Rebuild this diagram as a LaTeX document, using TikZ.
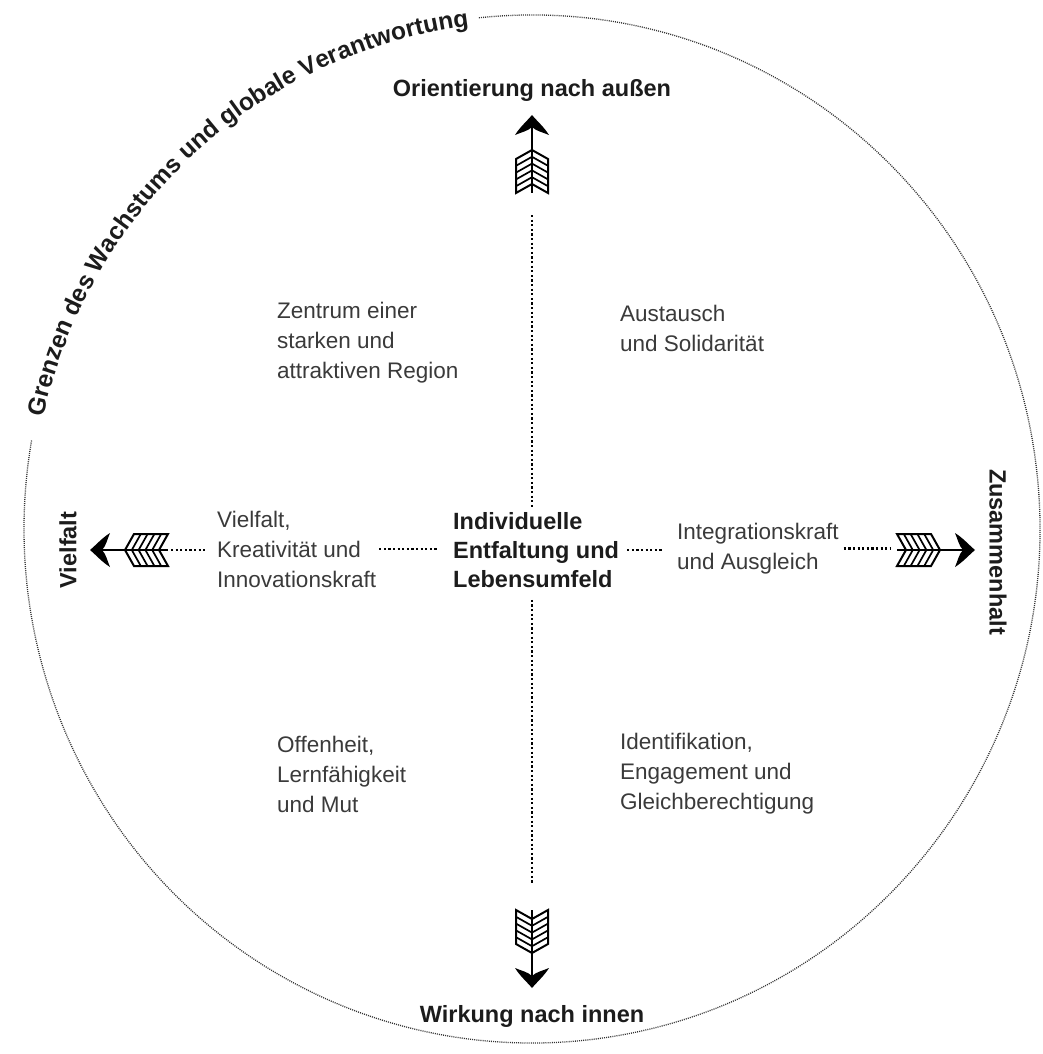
\documentclass[tikz,border=0pt]{standalone}
\usepackage{fontspec}
\setmainfont{Liberation Sans}
\usetikzlibrary{decorations.text}
\definecolor{bodygray}{HTML}{3A3A3A}
\definecolor{headblack}{HTML}{1C1C1C}
\tikzset{
  body/.style={font=\fontsize{22.5}{30}\selectfont, text=bodygray, align=left, inner sep=0pt, anchor=west},
  head/.style={font=\fontsize{23.5}{29}\selectfont\bfseries, text=headblack, inner sep=0pt},
  dotline/.style={black, line width=2.5pt, dash pattern=on 2.2pt off 2.4pt},
  rimline/.style={black!80, line width=1.3pt, dash pattern=on 1pt off 1.1pt},
  fletch/.style={black, line width=2pt, line join=miter},
}
\newcommand{\featherarrow}[3]{%
  \begin{scope}[shift={#1}, rotate=#2]
    \fill (0,0) .. controls (5,-6) and (12,-12) .. (17,-20) .. controls (10,-17) and (4,-16) .. (0,-12) .. controls (-4,-16) and (-10,-17) .. (-17,-20) .. controls (-12,-12) and (-5,-6) .. (0,0) -- cycle;
    \draw [black, line width=2.6pt] (0,-10) -- (0,-78);
    \draw [fletch] (0,-35) -- (16,-44) -- (16,-78) -- (0,-69) -- (-16,-78) -- (-16,-44) -- cycle;
    \foreach \k in {1,...,4}
      \draw [fletch, line width=1.7pt] (-16,{-44-6.8*\k}) -- (0,{-35-6.8*\k}) -- (16,{-44-6.8*\k});
    \coordinate (#3) at (0,-78);
  \end{scope}}

\begin{document}
\begin{tikzpicture}[x=1pt, y=1pt]
      \useasboundingbox (0,0) rectangle (1043,-1054);
      \coordinate (mid) at (532,-529);
      \draw [rimline] (mid) ++(96:508 and 514) arc [start angle=96, end angle=-190, x radius=508, y radius=514];
      \path [decorate, decoration={text along path, text align=center, text color=headblack,
        text={|\fontsize{24.5}{24.5}\selectfont\bfseries|Grenzen des Wachstums und globale Verantwortung}}]
        (mid) ++(168:501 and 507) arc [start angle=168, end angle=96.5, x radius=501, y radius=507];

      \featherarrow{(532,-115)}{0}{topfl}
      \featherarrow{(532,-988)}{180}{botfl}
      \featherarrow{(90,-550)}{90}{leftfl}
      \featherarrow{(975,-550)}{-90}{rightfl}

      \node [head, anchor=base] (outward) at (532,-96.5) {Orientierung nach außen};
      \node [head, anchor=base] (inward) at (532,-1022) {Wirkung nach innen};
      \node [head, rotate=90] (diversity) at (68,-550) {Vielfalt};
      \node [head, rotate=-90] (cohesion) at (998,-552) {Zusammenhalt};
      \node [head, align=left, anchor=west] (ind) at (453,-550) {Individuelle\\Entfaltung und\\Lebensumfeld};

      \node [body] (region) at (277,-343) {Zentrum einer\\starken und\\attraktiven Region};
      \node [body] (solid) at (620,-328) {Austausch\\und Solidarität};
      \node [body] (creat) at (217,-549) {Vielfalt,\\Kreativität und\\Innovationskraft};
      \node [body] (integ) at (677,-548.5) {Integrationskraft\\und Ausgleich};
      \node [body] (open) at (277,-774) {Offenheit,\\Lernfähigkeit\\und Mut};
      \node [body] (ident) at (620,-774) {Identifikation,\\Engagement und\\Gleichberechtigung};

      \draw [dotline, shorten <=22pt, shorten >=4pt] (topfl) -- (topfl |- ind.north);
      \draw [dotline, shorten <=12pt, shorten >=25pt] (botfl |- ind.south) -- (botfl);
      \draw [dotline, shorten <=3pt, shorten >=10pt] (leftfl) -- (leftfl -| creat.west);
      \draw [dotline, shorten <=3pt, shorten >=16pt] (creat.east) -- (creat.east -| ind.west);
      \draw [dotline, shorten <=8pt, shorten >=14pt] (ind.east) -- (ind.east -| integ.west);
      \draw [dotline, shorten <=5pt, shorten >=7pt] (integ.east) -- (integ.east -| rightfl);
\end{tikzpicture}
\end{document}
